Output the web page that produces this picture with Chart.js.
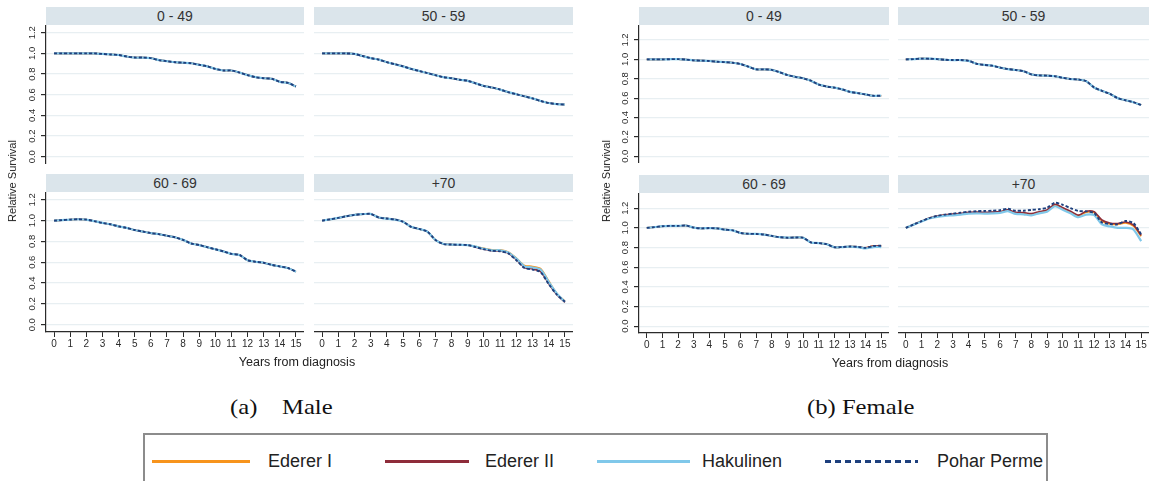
<!DOCTYPE html>
<html>
<head>
<meta charset="utf-8">
<script src="https://cdn.jsdelivr.net/npm/chart.js@4.4.1/dist/chart.umd.min.js"></script>
<style>
  html, body { margin: 0; padding: 0; background: #fff; }
  body { width: 1154px; height: 481px; overflow: hidden; position: relative;
         font-family: "Liberation Sans", Arial, sans-serif; }
  canvas { position: absolute; }
  .strip { position: absolute; background: #dbe5eb; color: #333; font-size: 14px;
           text-align: center; white-space: nowrap; }
  .ytitle { position: absolute; font-size: 11px; color: #222; white-space: nowrap;
            transform: translate(-50%, -50%) rotate(-90deg); }
  .xtitle { position: absolute; font-size: 12.5px; color: #222; white-space: nowrap;
            transform: translate(-50%, -50%); }
  .caption { position: absolute; font-family: "Liberation Serif", "Times New Roman", serif;
             font-size: 22px; color: #111; white-space: nowrap;
             transform-origin: 0 50%; transform: translateY(-50%) scaleX(1.12); }
  .legend { position: absolute; left: 143px; top: 433px; width: 905px; height: 70px;
            border: 2px solid #8c8c8c; box-sizing: border-box; }
  .lg-line { position: absolute; height: 3px; }
  .lg-text { position: absolute; font-size: 18px; color: #222; white-space: nowrap;
             transform: translateY(-50%); }
</style>
</head>
<body>
<script>
// Follow-up time (years since diagnosis) at which survival was estimated
const years = [0, 0.5, 1, 1.5, 2, 2.5, 3, 3.5, 4, 4.5, 5, 5.5, 6, 6.5, 7, 7.5,
               8, 8.5, 9, 9.5, 10, 10.5, 11, 11.5, 12, 12.5, 13, 13.5, 14, 14.5, 15];
const xTicks = [0, 1, 2, 3, 4, 5, 6, 7, 8, 9, 10, 11, 12, 13, 14, 15];
const yTicks = [0, 0.2, 0.4, 0.6, 0.8, 1.0, 1.2];
const ageGroups = ['0 - 49', '50 - 59', '60 - 69', '+70'];
const methods = ['Ederer I', 'Ederer II', 'Hakulinen', 'Pohar Perme'];

// Male relative survival (all four estimators coincide below 70)
const male049 = [1.00, 1.00, 1.00, 1.00, 1.00, 1.00, 0.995, 0.99, 0.985, 0.97, 0.96, 0.96, 0.955, 0.935, 0.925, 0.915,
                 0.91, 0.905, 0.89, 0.875, 0.85, 0.835, 0.835, 0.815, 0.79, 0.77, 0.76, 0.755, 0.725, 0.715, 0.68];
const male5059 = [1.00, 1.00, 1.00, 1.00, 0.995, 0.975, 0.955, 0.94, 0.915, 0.895, 0.875, 0.85, 0.83, 0.81, 0.79, 0.77,
                  0.76, 0.745, 0.735, 0.71, 0.685, 0.67, 0.65, 0.625, 0.605, 0.585, 0.565, 0.54, 0.52, 0.51, 0.505];
const male6069 = [1.00, 1.005, 1.01, 1.013, 1.01, 0.995, 0.978, 0.965, 0.945, 0.93, 0.91, 0.895, 0.88, 0.87, 0.855, 0.84,
                  0.815, 0.78, 0.765, 0.745, 0.725, 0.705, 0.68, 0.67, 0.62, 0.605, 0.595, 0.575, 0.56, 0.545, 0.51];
const male70EdererI = [1.00, 1.012, 1.026, 1.042, 1.055, 1.062, 1.065, 1.03, 1.02, 1.01, 0.99, 0.94, 0.92, 0.895, 0.815, 0.775,
                       0.77, 0.768, 0.765, 0.75, 0.735, 0.72, 0.72, 0.70, 0.64, 0.57, 0.56, 0.54, 0.42, 0.30, 0.225];
const male70EdererII = [1.00, 1.012, 1.026, 1.042, 1.055, 1.062, 1.065, 1.03, 1.02, 1.01, 0.99, 0.94, 0.92, 0.895, 0.815, 0.775,
                        0.77, 0.768, 0.765, 0.745, 0.725, 0.71, 0.708, 0.688, 0.625, 0.55, 0.535, 0.51, 0.395, 0.29, 0.215];
const male70Hakulinen = [1.00, 1.012, 1.026, 1.042, 1.055, 1.062, 1.065, 1.03, 1.02, 1.01, 0.99, 0.94, 0.92, 0.895, 0.815, 0.775,
                         0.77, 0.768, 0.765, 0.75, 0.73, 0.715, 0.715, 0.695, 0.635, 0.56, 0.55, 0.53, 0.41, 0.30, 0.22];
const male70Pohar = [1.00, 1.012, 1.026, 1.042, 1.055, 1.062, 1.065, 1.03, 1.02, 1.01, 0.99, 0.94, 0.92, 0.895, 0.815, 0.775,
                     0.77, 0.768, 0.765, 0.745, 0.725, 0.71, 0.705, 0.685, 0.62, 0.545, 0.53, 0.505, 0.39, 0.29, 0.22];

// Female relative survival
const female049 = [1.00, 1.00, 1.00, 1.002, 1.003, 0.998, 0.99, 0.987, 0.983, 0.976, 0.972, 0.965, 0.952, 0.925, 0.897, 0.897,
                   0.892, 0.868, 0.838, 0.82, 0.805, 0.78, 0.74, 0.72, 0.708, 0.69, 0.665, 0.652, 0.638, 0.624, 0.625];
const female5059 = [1.00, 1.003, 1.008, 1.007, 1.003, 0.996, 0.993, 0.993, 0.985, 0.955, 0.943, 0.935, 0.915, 0.90, 0.89, 0.878,
                    0.845, 0.835, 0.832, 0.826, 0.81, 0.797, 0.792, 0.775, 0.71, 0.675, 0.645, 0.60, 0.578, 0.558, 0.528];
const female6069 = [1.00, 1.008, 1.017, 1.02, 1.02, 1.024, 1.003, 0.995, 0.998, 0.995, 0.982, 0.975, 0.948, 0.94, 0.938, 0.932,
                    0.918, 0.905, 0.90, 0.902, 0.90, 0.852, 0.845, 0.835, 0.803, 0.805, 0.81, 0.807, 0.797, 0.815, 0.818];
const female6069Hakulinen = [1.00, 1.008, 1.017, 1.02, 1.02, 1.024, 1.003, 0.995, 0.998, 0.995, 0.982, 0.975, 0.948, 0.94, 0.938, 0.932,
                             0.918, 0.905, 0.90, 0.902, 0.90, 0.852, 0.845, 0.835, 0.803, 0.805, 0.81, 0.805, 0.79, 0.805, 0.805];
const female70EdererI = [1.00, 1.035, 1.067, 1.098, 1.117, 1.128, 1.135, 1.142, 1.152, 1.155, 1.152, 1.155, 1.16, 1.178, 1.152, 1.148,
                         1.138, 1.158, 1.176, 1.232, 1.198, 1.162, 1.122, 1.16, 1.155, 1.07, 1.04, 1.035, 1.05, 1.02, 0.915];
const female70EdererII = [1.00, 1.035, 1.068, 1.10, 1.12, 1.132, 1.14, 1.148, 1.158, 1.16, 1.158, 1.16, 1.165, 1.183, 1.158, 1.155,
                          1.145, 1.165, 1.183, 1.24, 1.205, 1.17, 1.13, 1.17, 1.165, 1.08, 1.05, 1.045, 1.06, 1.03, 0.925];
const female70Hakulinen = [1.00, 1.033, 1.065, 1.095, 1.112, 1.122, 1.128, 1.135, 1.145, 1.148, 1.145, 1.147, 1.152, 1.17, 1.142, 1.138,
                           1.128, 1.148, 1.165, 1.22, 1.185, 1.148, 1.108, 1.135, 1.13, 1.035, 1.015, 1.00, 1.00, 0.985, 0.865];
const female70Pohar = [1.00, 1.035, 1.068, 1.10, 1.122, 1.135, 1.145, 1.155, 1.165, 1.17, 1.172, 1.175, 1.18, 1.195, 1.175, 1.175,
                       1.183, 1.19, 1.205, 1.255, 1.235, 1.20, 1.172, 1.168, 1.15, 1.055, 1.04, 1.035, 1.07, 1.05, 0.935];

const methodColors = ['#f7941d', '#8e2c3a', '#80c8ea', '#1d3f7d'];
const INK = '#2b2b2b';
const GRID = '#e8eff2';

function el(tag, cls, style, text) {
  const e = document.createElement(tag);
  if (cls) e.className = cls;
  Object.assign(e.style, style);
  if (text !== undefined) e.textContent = text;
  document.body.appendChild(e);
  return e;
}

// One facet: plot box (left, top, width, height), y range, and series per method
function facet(box, yRange, seriesList, title, showY, showX) {
  const yW = showY ? 46 : 0;
  const xH = showX ? 26 : 0;
  const cv = document.createElement('canvas');
  cv.width = box.w + yW;
  cv.height = box.h + xH;
  cv.style.left = (box.x - yW) + 'px';
  cv.style.top = box.y + 'px';
  cv.style.width = cv.width + 'px';
  cv.style.height = cv.height + 'px';
  document.body.appendChild(cv);

  el('div', 'strip', {
    left: box.x + 'px', top: (box.y - 18) + 'px', width: box.w + 'px',
    height: '18px', lineHeight: '18px'
  }, title);

  // Pohar Perme is drawn on top, then Hakulinen, Ederer II, Ederer I underneath
  const datasets = seriesList.map((vals, k) => ({
    label: methods[k],
    data: vals.map((v, i) => ({ x: years[i], y: v })),
    order: 3 - k,
    borderColor: methodColors[k],
    borderWidth: k === 3 ? 1.9 : (k === 2 ? 2.2 : 1.6),
    borderDash: k === 3 ? [3, 2] : [],
    pointRadius: 0,
    tension: 0.25,
    fill: false
  }));

  new Chart(cv, {
    type: 'line',
    data: { datasets },
    options: {
      responsive: false,
      animation: false,
      devicePixelRatio: 1,
      layout: { padding: 0 },
      events: [],
      plugins: { legend: { display: false }, tooltip: { enabled: false } },
      scales: {
        x: {
          type: 'linear',
          min: -0.5, max: 15.5,
          display: showX,
          afterBuildTicks: s => { s.ticks = xTicks.map(v => ({ value: v })); },
          afterFit: s => { s.height = xH; s.paddingLeft = 0; s.paddingRight = 0; },
          ticks: {
            autoSkip: false, minRotation: 0, maxRotation: 0, padding: 1,
            color: INK, font: { family: 'Liberation Sans', size: 10 },
            callback: v => String(v)
          },
          grid: { drawOnChartArea: false, drawTicks: true, tickLength: 5, tickColor: INK, color: INK },
          border: { display: true, color: INK, width: 1.2 }
        },
        y: {
          type: 'linear',
          min: yRange[0], max: yRange[1],
          afterBuildTicks: s => { s.ticks = yTicks.map(v => ({ value: v })); },
          afterFit: s => { s.width = yW; s.paddingTop = 0; s.paddingBottom = 0; },
          ticks: {
            display: showY, minRotation: 90, maxRotation: 90, crossAlign: 'center', padding: 2,
            color: INK, font: { family: 'Liberation Sans', size: 9.5 },
            callback: v => v.toFixed(1)
          },
          grid: { color: GRID, lineWidth: 1.2, drawTicks: showY, tickLength: 5, tickColor: INK },
          border: { display: showY, color: INK, width: 1.2 }
        }
      }
    }
  });
}

const maleRange = [-0.07, 1.275];
const femaleRange = [-0.07, 1.355];

// Male facets
facet({ x: 46, y: 25, w: 258, h: 139 }, maleRange, [male049, male049, male049, male049], ageGroups[0], true, false);
facet({ x: 314, y: 25, w: 259, h: 139 }, maleRange, [male5059, male5059, male5059, male5059], ageGroups[1], false, false);
facet({ x: 46, y: 192, w: 258, h: 140 }, maleRange, [male6069, male6069, male6069, male6069], ageGroups[2], true, true);
facet({ x: 314, y: 192, w: 259, h: 140 }, maleRange, [male70EdererI, male70EdererII, male70Hakulinen, male70Pohar], ageGroups[3], false, true);

// Female facets
facet({ x: 639, y: 25, w: 250, h: 138 }, femaleRange, [female049, female049, female049, female049], ageGroups[0], true, false);
facet({ x: 898, y: 25, w: 251, h: 138 }, femaleRange, [female5059, female5059, female5059, female5059], ageGroups[1], false, false);
facet({ x: 639, y: 193, w: 250, h: 140 }, femaleRange, [female6069, female6069, female6069Hakulinen, female6069], ageGroups[2], true, true);
facet({ x: 898, y: 193, w: 251, h: 140 }, femaleRange, [female70EdererI, female70EdererII, female70Hakulinen, female70Pohar], ageGroups[3], false, true);

// Axis titles
el('div', 'ytitle', { left: '12px', top: '181px' }, 'Relative Survival');
el('div', 'ytitle', { left: '606px', top: '181px' }, 'Relative Survival');
el('div', 'xtitle', { left: '297px', top: '362px' }, 'Years from diagnosis');
el('div', 'xtitle', { left: '890px', top: '363px' }, 'Years from diagnosis');

// Sub-figure captions
el('div', 'caption', { left: '230px', top: '407px' }, '(a)\u00a0\u00a0\u00a0 Male');
el('div', 'caption', { left: '807px', top: '407px' }, '(b) Female');

// Shared legend
el('div', 'legend', {});
const legendLines = [[152, 98], [385, 84], [597, 93], [825, 93]];
const legendText = [268, 485, 702, 937];
methods.forEach((m, k) => {
  const st = { left: legendLines[k][0] + 'px', top: '460px', width: legendLines[k][1] + 'px' };
  if (k === 3) {
    st.background = 'repeating-linear-gradient(90deg, ' + methodColors[k] + ' 0 6px, transparent 6px 10px)';
  } else {
    st.background = methodColors[k];
  }
  el('div', 'lg-line', st);
  el('div', 'lg-text', { left: legendText[k] + 'px', top: '461px' }, m);
});
</script>
</body>
</html>
